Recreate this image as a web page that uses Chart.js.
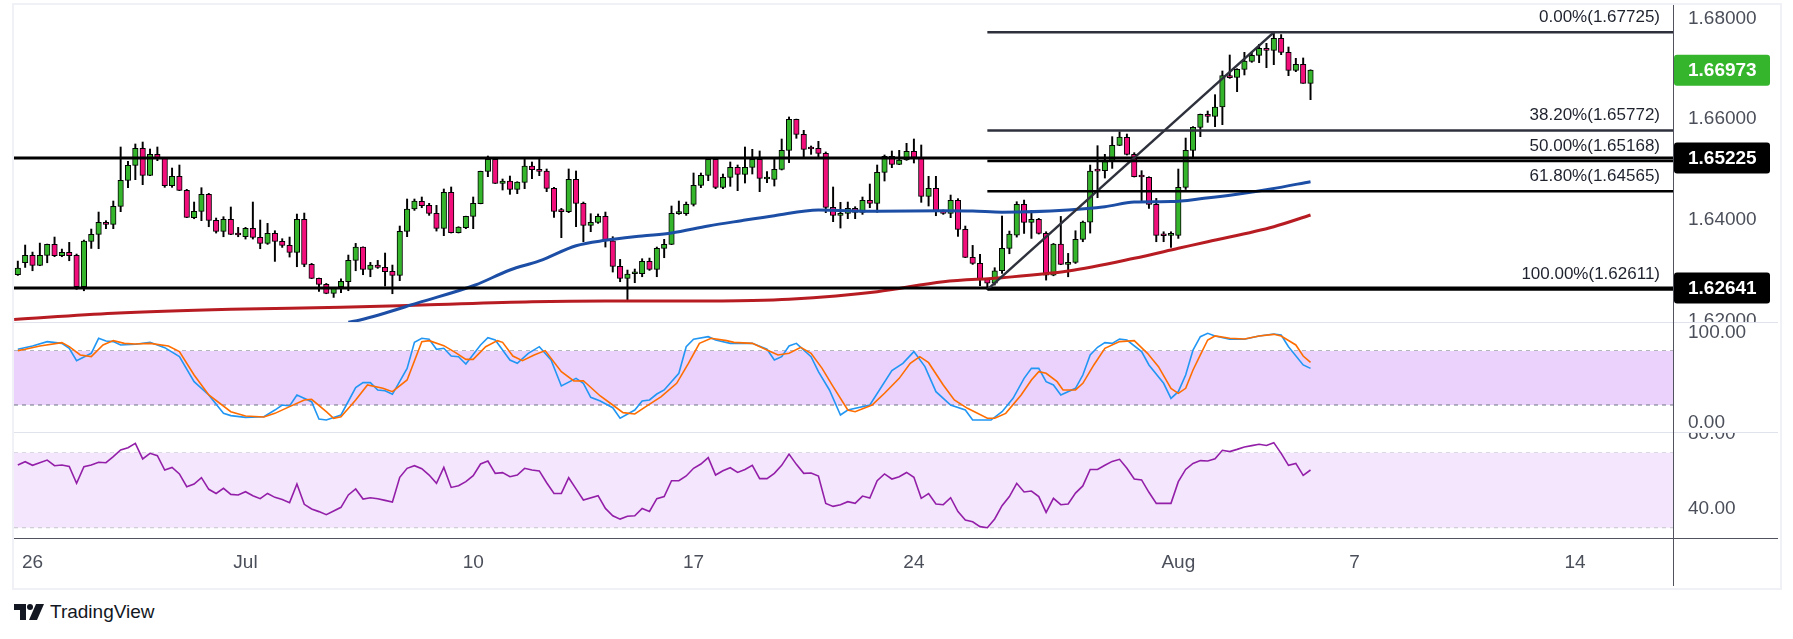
<!DOCTYPE html>
<html>
<head>
<meta charset="utf-8">
<script src="https://cdn.jsdelivr.net/npm/chart.js@4.4.0/dist/chart.umd.min.js"></script>
<style>
html, body { margin: 0; padding: 0; background: #fff; width: 1793px; height: 639px; overflow: hidden; font-family: 'Liberation Sans', Arial, sans-serif; }
.pane { position: absolute; left: 14px; width: 1764px; }
#p1 { top: 5px; height: 317px; }
#p2 { top: 322px; height: 110px; }
#p3 { top: 432px; height: 154px; }
.ln { position: absolute; pointer-events: none; }
#frame { left: 12px; top: 3px; width: 1766px; height: 583px; border: 2px solid #eff1f6; }
#logo { position: absolute; left: 14px; top: 603px; height: 18px; display: flex; align-items: center; gap: 6px; color: #131722; font-size: 19px; }
</style>
</head>
<body>
<div class="pane" id="p1"><canvas id="c1"></canvas></div>
<div class="pane" id="p2"><canvas id="c2"></canvas></div>
<div class="pane" id="p3"><canvas id="c3"></canvas></div>
<div class="ln" id="frame"></div>
<div class="ln" style="left:14px;top:322px;width:1764px;height:1px;background:#e0e3eb"></div>
<div class="ln" style="left:14px;top:432px;width:1764px;height:1px;background:#e0e3eb"></div>
<div class="ln" style="left:14px;top:538px;width:1764px;height:1px;background:#50535e"></div>
<div class="ln" style="left:1673px;top:5px;width:1px;height:581px;background:#50535e"></div>
<div id="logo">
  <svg width="30" height="16" viewBox="0 0 30 16"><path d="M0 0H12V16H6V6H0Z" fill="#131722"/><circle cx="16" cy="3" r="3" fill="#131722"/><path d="M22 0H30L23 16H15Z" fill="#131722"/></svg>
  <span>TradingView</span>
</div>
<script>
// 4h candles, index 0 = first bar on screen (Jun 25 evening), last = Aug 4 00:00
const opens = [1.62906,1.63144,1.63290,1.63091,1.63290,1.63509,1.63283,1.63350,1.63290,1.62667,
1.63569,1.63708,1.63946,1.63907,1.64265,1.64782,1.65080,1.65418,1.64881,1.65299,
1.65219,1.64676,1.64861,1.64583,1.64039,1.64165,1.64503,1.63986,1.63767,1.64006,
1.63708,1.63661,1.63827,1.63648,1.63529,1.63728,1.63569,1.63489,1.63350,1.64006,
1.63111,1.62833,1.62713,1.62534,1.62667,1.62767,1.63191,1.63456,1.63012,1.63098,
1.63052,1.62972,1.62893,1.63768,1.64212,1.64364,1.64285,1.64126,1.63827,1.64543,
1.63741,1.63841,1.64066,1.64318,1.64961,1.65200,1.64722,1.64769,1.64603,1.64742,
1.65067,1.65001,1.64968,1.64623,1.64166,1.64160,1.64802,1.64325,1.63887,1.63947,
1.64066,1.63582,1.63072,1.62833,1.62926,1.62926,1.63171,1.63012,1.63430,1.63509,
1.64119,1.64119,1.64305,1.64683,1.64882,1.65200,1.64643,1.64842,1.65041,1.64902,
1.65041,1.65200,1.64809,1.64802,1.65001,1.65379,1.65995,1.65697,1.65412,1.65419,
1.65319,1.64245,1.64086,1.64126,1.64225,1.64146,1.64384,1.64325,1.64941,1.65260,
1.65100,1.65187,1.65359,1.65240,1.64464,1.64623,1.64166,1.64126,1.64384,1.63808,
1.63251,1.63131,1.62813,1.62740,1.62985,1.63429,1.63694,1.64304,1.63946,1.64006,
1.63727,1.62898,1.63515,1.63111,1.63150,1.63608,1.63953,1.64974,1.64974,1.65153,
1.65478,1.65637,1.65299,1.64854,1.64841,1.64304,1.63687,1.63687,1.63687,1.64642,
1.65378,1.65836,1.66094,1.66054,1.66240,1.66863,1.66830,1.66989,1.67148,1.67268,
1.67407,1.67367,1.67606,1.67327,1.66969,1.67089,1.66711];
const highs = [1.63177,1.63496,1.63356,1.63535,1.63515,1.63655,1.63416,1.63549,1.63317,1.63595,
1.63814,1.64152,1.63980,1.64371,1.65445,1.65160,1.65505,1.65544,1.65405,1.65445,
1.65225,1.65027,1.65087,1.64603,1.64351,1.64636,1.64523,1.64033,1.64059,1.64252,
1.63847,1.63847,1.64351,1.63993,1.63927,1.63781,1.63622,1.63655,1.64112,1.64132,
1.63131,1.62840,1.62733,1.62640,1.62826,1.63297,1.63529,1.63460,1.63151,1.63191,
1.63337,1.63098,1.63874,1.64411,1.64411,1.64451,1.64325,1.64285,1.64610,1.64650,
1.63860,1.64070,1.64451,1.64965,1.65266,1.65225,1.64809,1.64868,1.64755,1.65200,
1.65147,1.65200,1.65008,1.64643,1.64225,1.65008,1.64968,1.64351,1.64119,1.64113,
1.64152,1.63662,1.63211,1.62999,1.63019,1.63224,1.63237,1.63456,1.63609,1.64272,
1.64371,1.64351,1.64928,1.64928,1.65206,1.65206,1.64908,1.65147,1.65087,1.65445,
1.65399,1.65366,1.64955,1.65200,1.65604,1.66042,1.66000,1.65777,1.65465,1.65558,
1.65346,1.64650,1.64345,1.64351,1.64258,1.64451,1.64709,1.65087,1.65286,1.65366,
1.65379,1.65518,1.65604,1.65485,1.64862,1.64862,1.64192,1.64490,1.64418,1.63874,
1.63489,1.63310,1.62826,1.63045,1.64073,1.63774,1.64357,1.64390,1.64185,1.64026,
1.63760,1.63528,1.64065,1.63330,1.63780,1.63973,1.65086,1.65471,1.65299,1.65650,
1.65749,1.65703,1.65332,1.64974,1.64854,1.64423,1.63760,1.63760,1.65007,1.65623,
1.65849,1.66100,1.66160,1.66485,1.66956,1.67274,1.67002,1.67327,1.67327,1.67486,
1.67506,1.67725,1.67680,1.67433,1.67208,1.67215,1.66980];
const lows = [1.62892,1.63051,1.62985,1.63085,1.63144,1.63264,1.63264,1.63184,1.62614,1.62587,
1.63429,1.63423,1.63821,1.63821,1.64159,1.64636,1.64795,1.64696,1.64875,1.65173,
1.64643,1.64643,1.64577,1.64040,1.64019,1.63980,1.63860,1.63734,1.63661,1.63702,
1.63661,1.63615,1.63615,1.63423,1.63509,1.63171,1.63449,1.63257,1.63065,1.63065,
1.62827,1.62574,1.62528,1.62455,1.62548,1.62588,1.62985,1.62906,1.62866,1.63032,
1.62680,1.62528,1.62787,1.63662,1.64185,1.64238,1.64086,1.63774,1.63682,1.63735,
1.63735,1.63821,1.63821,1.64315,1.64855,1.64718,1.64590,1.64504,1.64517,1.64616,
1.64815,1.64875,1.64557,1.64046,1.63642,1.64139,1.63861,1.63562,1.63761,1.63927,
1.63456,1.62959,1.62767,1.62402,1.62747,1.62866,1.62992,1.62866,1.63244,1.63503,
1.64106,1.64086,1.64272,1.64636,1.64776,1.64616,1.64616,1.64663,1.64577,1.64729,
1.64908,1.64557,1.64736,1.64669,1.64988,1.65134,1.65618,1.65253,1.65299,1.65253,
1.64139,1.63960,1.63834,1.64020,1.64020,1.64106,1.64238,1.64146,1.64769,1.65034,
1.65094,1.65180,1.65127,1.64345,1.64272,1.64079,1.64106,1.64040,1.63668,1.63245,
1.63111,1.62687,1.62611,1.62700,1.62932,1.63323,1.63654,1.63727,1.63628,1.63714,
1.62799,1.62885,1.63105,1.62865,1.63130,1.63562,1.63734,1.64437,1.64828,1.65020,
1.65472,1.65285,1.64848,1.64357,1.64224,1.63562,1.63562,1.63449,1.63628,1.64602,
1.65252,1.65650,1.65935,1.65849,1.65889,1.66810,1.66545,1.66877,1.67128,1.67122,
1.67022,1.67082,1.67281,1.66863,1.66943,1.66711,1.66386];
const closes = [1.63038,1.63290,1.63091,1.63290,1.63509,1.63283,1.63350,1.63283,1.62667,1.63575,
1.63708,1.63946,1.63907,1.64265,1.64782,1.65080,1.65418,1.64881,1.65299,1.65219,
1.64676,1.64861,1.64583,1.64046,1.64165,1.64503,1.63986,1.63767,1.64006,1.63708,
1.63695,1.63827,1.63648,1.63529,1.63728,1.63569,1.63489,1.63350,1.64006,1.63111,
1.62833,1.62713,1.62534,1.62634,1.62773,1.63191,1.63456,1.63012,1.63098,1.63052,
1.62966,1.62893,1.63768,1.64212,1.64371,1.64278,1.64126,1.63827,1.64543,1.63741,
1.63854,1.64066,1.64325,1.64961,1.65200,1.64722,1.64769,1.64603,1.64749,1.65067,
1.64994,1.64961,1.64623,1.64166,1.64160,1.64802,1.64325,1.63887,1.63947,1.64066,
1.63582,1.63072,1.62833,1.62919,1.62930,1.63171,1.63012,1.63430,1.63509,1.64126,
1.64132,1.64305,1.64683,1.64882,1.65200,1.64643,1.64842,1.65041,1.64902,1.65041,
1.65200,1.64822,1.64815,1.65001,1.65379,1.65995,1.65697,1.65399,1.65405,1.65319,
1.64245,1.64086,1.64126,1.64225,1.64146,1.64384,1.64325,1.64941,1.65260,1.65100,
1.65187,1.65359,1.65240,1.64464,1.64623,1.64166,1.64126,1.64384,1.63808,1.63251,
1.63131,1.62813,1.62740,1.62985,1.63430,1.63714,1.64304,1.63946,1.64006,1.63727,
1.62898,1.63515,1.63111,1.63150,1.63608,1.63953,1.64967,1.64967,1.65153,1.65478,
1.65643,1.65299,1.64854,1.64848,1.64304,1.63687,1.63681,1.63690,1.64642,1.65378,
1.65836,1.66094,1.66054,1.66240,1.66863,1.66823,1.66989,1.67155,1.67268,1.67407,
1.67367,1.67606,1.67327,1.66969,1.67089,1.66711,1.66973];

// moving averages as [bar, price]
const maBlue = [[45,1.61960],[46.6,1.62006],[55,1.62370],[62.3,1.62702],[67,1.63000],[71,1.63180],[76,1.63483],[80,1.63590],[85,1.63676],[89,1.63735],[94,1.63875],[98.5,1.63980],[103,1.64080],[109,1.64193],[117,1.64167],[126,1.64179],[130,1.64173],[134,1.64150],[143,1.64193],[148,1.64258],[152,1.64350],[157,1.64360],[161.5,1.64425],[166,1.64505],[170.6,1.64610],[176,1.64756]];
const maRed = [[-0.5,1.62015],[13,1.62139],[29,1.62219],[44,1.62258],[55,1.62304],[70,1.62370],[80,1.62385],[90,1.62385],[100,1.62395],[105,1.62420],[117,1.62569],[126,1.62767],[134,1.62847],[143,1.62980],[152,1.63233],[158,1.63431],[162,1.63563],[171,1.63861],[176,1.64093]];

// stochastic %K / %D and RSI as [bar, value]
const stochK = [[0,82],[2,85.6],[4,90.4],[6,88.5],[7,83],[8,69.3],[10,77.4],[11,94.1],[12,91.1],[13,90.4],[14,86.7],[16,87.4],[18,89.6],[19,86.7],[20,83.7],[22,73.7],[24,45.9],[26,31.1],[28,10.7],[29,8.2],[31,6.3],[33.5,7],[35,14.4],[36,20],[37,18.9],[38,31.1],[40,23.7],[41,4.4],[42,3.3],[44,8.9],[46,39.3],[47,44.8],[48,44.8],[49,36.7],[50,35.9],[51,31.9],[53,60.7],[54,89.6],[55,94.1],[56,93],[57,81.9],[58,83],[59,74.4],[60,73.7],[61,65.6],[63,86.7],[64,94.8],[65,92.2],[67,70],[68,66.3],[69.5,77.4],[71,84.8],[72.6,70],[74,41.1],[76,49.6],[77,44.1],[78,28.5],[79.3,24.5],[81,17],[82,5.2],[84,14.4],[85,24.4],[86,25.6],[87,32.2],[88,36.7],[90,55.2],[91,84.8],[92,93],[94,95.9],[95,92.2],[97,88.5],[100,88.5],[102,81.9],[103,70],[104,73.7],[105,85.6],[106,88.5],[108,73.7],[109,57],[110.5,36.7],[112,8.9],[113,14.4],[116,20],[119,58.2],[120.5,66.3],[122,79.3],[123.5,62.6],[125,34.8],[127,20],[129,14.4],[130,3.3],[132.5,3.3],[134,12.6],[135.5,27.4],[137,49.6],[138,60.7],[139,60.7],[140,45.9],[141,42.2],[142,31.1],[144,38.5],[145,53.3],[146,75.6],[147,84.1],[148,89.3],[149,88.5],[150,93.3],[151,92.2],[153,79.3],[154,64.5],[156,44.1],[157,27.4],[158,34.8],[159,53.3],[160,81.1],[161,95.9],[162,99.6],[163,96.7],[165,93],[167,93],[169,96.7],[171,98.9],[172,97.8],[173,84.8],[175,64.5],[176,60.7]];
const stochD = [[0,80.4],[1,81.9],[3,85.6],[6,89.3],[7,84.8],[8.5,75.6],[10,73.7],[11.6,86.7],[13,91.5],[14.5,88.5],[16,87.8],[18,88.5],[20.5,85.6],[22,79.3],[24,53.3],[26,31.1],[29,12.6],[31,7.8],[33.5,6.7],[35,10.7],[37,18.2],[39,25.6],[40,26.3],[42,12.6],[43,5.2],[44,7],[46,25.6],[47.6,42.2],[49.7,38.5],[51,34.8],[53,47.8],[55,90.4],[56,91.5],[58,85.9],[59.6,78.2],[61,70.7],[62,70.7],[63.7,84.8],[65.3,91.5],[66,89.6],[67.4,74.4],[68.7,69.3],[70.3,75.6],[71.8,80.4],[74,57],[75.7,46.7],[77,47],[79.3,30],[81,20],[82.4,11.5],[84,10],[85.5,18.2],[87.6,29.3],[89.7,44.1],[91.3,66.3],[92.8,88.5],[94.4,94.1],[96.5,91.5],[97.5,89.6],[100,88.5],[102,81.1],[103.5,75.6],[105,77.4],[106.6,84.1],[108,77.4],[109.5,60.7],[111,40.4],[113,14.4],[114,12.6],[116.3,20],[118,33],[120,49.6],[121.5,66.3],[122.8,73.7],[124,67],[126,42.2],[127.5,25.6],[129.3,16.3],[132,5.2],[133,5.2],[134.5,10.7],[136.6,31.1],[138,47.8],[139,57],[140,55.2],[141.5,45.9],[142.3,36.7],[144,36.7],[145,44.1],[146.5,64.5],[148,83],[150,90.4],[152,91.5],[153.8,77.4],[155.3,62.6],[157,38.5],[158,33],[159,38.5],[160,58.9],[161,75.6],[162,92.2],[163,96.7],[165,94.1],[167,93.3],[169,96.7],[171,98.5],[172,96.7],[174,86.7],[175,74.4],[176,67.4]];
const rsi = [[0,63.5],[1,65.2],[2,63.3],[4,66.1],[5,63.1],[6,63.5],[7,62.7],[8,53.7],[9,62.6],[10,63.5],[11,64.9],[12,64.7],[13,67.9],[14,71.5],[15,72.7],[16,75],[17,66.7],[18,69.7],[19,68.4],[20,60.8],[21,62.2],[22,58.7],[23,51.9],[24,53.3],[25,56.7],[26,50.5],[27,48.3],[28,51],[29,47.8],[30,47.5],[31,49.2],[32,47.1],[33,45.5],[34,48.3],[35,46.2],[36,45.1],[37,43.4],[38,53.3],[39,42.5],[40,40],[41,38.6],[42,37],[43,38.9],[44,40.9],[45,47.5],[46,50.7],[47,45.3],[48,46],[49,45.5],[50,44.6],[51,43.7],[52,56.9],[53,61.7],[54,63.1],[55,61.5],[56,58.1],[57,53.7],[58,62.2],[59,51.5],[60,52.4],[61,54.6],[62,57.8],[63,64],[64,65.6],[65,59],[66,59.4],[67,57.2],[68,58.1],[69,61.7],[70,60.8],[71,60.3],[72,54],[73,48.3],[74,48.3],[75,56.7],[76,50.7],[77,44.8],[79,47.1],[80,40.3],[81,36.4],[82,34.6],[83,36.1],[84,36.4],[85,40.3],[86,38.7],[87,45.5],[88,46.6],[89,55.1],[90,55.1],[91,57.6],[92,61.7],[93,64],[94,67.4],[95,58.1],[96,60.4],[97,62],[98,59.5],[99,61.1],[100,63.3],[101,56.2],[102,56.2],[103,59],[104,63.3],[105,69.3],[106,63.8],[107,59],[108,59.2],[109,57.6],[110,43],[111,41.4],[112,42.3],[113,43.9],[114,43],[115,46.9],[116,45.8],[117,55.1],[118,58.7],[119,56],[120,57.2],[121,59.5],[122,56.9],[123,45.7],[124,48.2],[125,42.7],[126,42.3],[127,46],[128,38.6],[129,34.1],[130,33.2],[131,30.6],[132,30],[133,34.7],[134,41.8],[135,46.6],[136,53.7],[137,49.1],[138,49.6],[139,46.6],[140,38.2],[141,45.7],[142,42.3],[143,42.7],[144,48.5],[145,52.3],[146,61.1],[147,61.1],[148,63.3],[149,65.4],[150,66.5],[151,61.7],[152,56],[153,55.5],[154,48.9],[155,43],[156,43],[157,43],[158,54.6],[159,61.1],[160,64.3],[161,65.8],[162,65.6],[163,66.8],[164,71.3],[165,70.6],[166,71.8],[167,73.1],[168,73.8],[169,74.5],[170,73.9],[171,75.4],[172,69.7],[173,63.3],[174,64.3],[175,57.9],[176,60.8]];

// drawings
const hLevels = [1.65225, 1.62641];
const fibLevels = [0, 38.2, 50, 61.8, 100];
const fibPrices = [1.67725, 1.65772, 1.65168, 1.64565, 1.62611];
const fibStart = 132;
const trendLine = [[132, 1.62611], [171, 1.67725]];

// axes
const timeIdx = [2, 31, 62, 92, 122, 158, 182, 212];
const timeLabels = ['26', 'Jul', '10', '17', '24', 'Aug', '7', '14'];
const priceTicks = [1.62, 1.64, 1.66, 1.68];
const stochTicks = [0, 100];
const rsiTicks = [40, 80];
const xMin = -0.52, xMax = 225.35;

const GREEN = '#35b52c', PINK = '#f20f7b', AXIS_TXT = '#4b4f5a';
Chart.defaults.font.family = "'Liberation Sans', Arial, sans-serif";
Chart.defaults.animation = false;

const pts = (arr) => arr.map(([x, y]) => ({ x, y }));
const hline = (y) => [{ x: xMin, y }, { x: xMax, y }];

function xAxis(show) {
    const ax = { type: 'linear', min: xMin, max: xMax, offset: false, display: show,
        grid: { display: false, drawTicks: false }, border: { display: false } };
    if (show) {
        ax.afterBuildTicks = (s) => { s.ticks = timeIdx.map((v) => ({ value: v })); };
        ax.afterFit = (s) => { s.height = 48; s.paddingLeft = 0; s.paddingRight = 0; };
        ax.ticks = { autoSkip: false, maxRotation: 0, padding: 13, color: AXIS_TXT, font: { size: 19 },
            callback: (v) => timeLabels[timeIdx.indexOf(v)] };
    }
    return ax;
}
function yAxis(min, max, ticks, digits) {
    return { type: 'linear', position: 'right', min, max, bounds: 'data',
        grid: { display: false, drawTicks: false }, border: { display: false },
        afterBuildTicks: (s) => { s.ticks = ticks.map((v) => ({ value: v })); },
        afterFit: (s) => { s.width = 105; s.paddingTop = 0; s.paddingBottom = 0; },
        ticks: { autoSkip: false, padding: 15, color: AXIS_TXT, font: { size: 19 }, callback: (v) => Number(v).toFixed(digits) } };
}
const baseOpts = { responsive: true, maintainAspectRatio: false, events: [], layout: { padding: 0 },
    plugins: { legend: { display: false }, tooltip: { enabled: false } } };
const line = (data, color, width, extra) => Object.assign({ type: 'line', data, borderColor: color, borderWidth: width,
    pointRadius: 0, fill: false, tension: 0 }, extra || {});

// fib labels + price tags
const overlayPlugin = {
    id: 'overlay',
    afterDraw(chart) {
        const { ctx, chartArea, scales: { y } } = chart;
        ctx.save();
        ctx.font = "17px 'Liberation Sans', Arial, sans-serif";
        ctx.fillStyle = '#1e222d';
        ctx.textAlign = 'right';
        ctx.textBaseline = 'middle';
        fibLevels.forEach((lv, i) => {
            ctx.fillText(`${lv.toFixed(2)}%(${fibPrices[i].toFixed(5)})`, chartArea.right - 13, y.getPixelForValue(fibPrices[i]) - 15);
        });
        const tags = [[closes[closes.length - 1], GREEN], [hLevels[0], '#000'], [hLevels[1], '#000']];
        ctx.font = "bold 19px 'Liberation Sans', Arial, sans-serif";
        ctx.textAlign = 'left';
        tags.forEach(([v, col]) => {
            const py = y.getPixelForValue(v);
            ctx.fillStyle = col;
            ctx.beginPath();
            ctx.roundRect(chartArea.right + 1, py - 15.5, 96, 31, 3);
            ctx.fill();
            ctx.fillStyle = '#fff';
            ctx.fillText(v.toFixed(5), chartArea.right + 15, py + 1);
        });
        ctx.restore();
    }
};

const bodyColors = closes.map((c, i) => (c >= opens[i] ? GREEN : PINK));

new Chart(document.getElementById('c1'), {
    type: 'bar',
    data: { datasets: [
        { type: 'bar', order: 10, data: lows.map((l, i) => ({ x: i, y: [l, highs[i]] })), backgroundColor: '#000', barThickness: 1.3, grouped: false },
        { type: 'bar', order: 9, data: opens.map((o, i) => ({ x: i, y: [o, closes[i]] })), backgroundColor: bodyColors,
          borderColor: '#000', borderWidth: 1, borderSkipped: false, barThickness: 5.5, minBarLength: 2, grouped: false },
        line(pts(maRed), '#b71c23', 3, { order: 6, cubicInterpolationMode: 'monotone' }),
        line(pts(maBlue), '#1c4ea6', 3, { order: 5, cubicInterpolationMode: 'monotone' }),
        ...hLevels.map((v) => line(hline(v), '#000', 3, { order: 2 })),
        ...fibPrices.map((v, i) => line([{ x: fibStart, y: v }, { x: xMax, y: v }], i < 2 ? '#2e313c' : '#000', 2.4, { order: 1 })),
        line(pts(trendLine), '#2e313c', 2.5, { order: 1 }),
    ] },
    options: Object.assign({}, baseOpts, { scales: { x: xAxis(false), y: yAxis(1.61966, 1.68268, priceTicks, 5) } }),
    plugins: [overlayPlugin]
});

function bandSets(hi, lo, dashColor, fillColor) {
    return [
        line(hline(hi), dashColor, 1, { order: 20, borderDash: [4, 4] }),
        line(hline(lo), dashColor, 1, { order: 19, borderDash: [4, 4], fill: '-1', backgroundColor: fillColor }),
    ];
}

new Chart(document.getElementById('c2'), {
    type: 'line',
    data: { datasets: [
        ...bandSets(80, 20, '#6f7280', '#ead2fc'),
        line(pts(stochK), '#2196f3', 1.6, { order: 3 }),
        line(pts(stochD), '#ff6d00', 1.6, { order: 2 }),
    ] },
    options: Object.assign({}, baseOpts, { scales: { x: xAxis(false), y: yAxis(-10, 112.2, stochTicks, 2) } })
});

new Chart(document.getElementById('c3'), {
    type: 'line',
    data: { datasets: [
        ...bandSets(70, 30, '#c3c5cc', '#f4e6fd'),
        line(pts(rsi), '#931fa8', 1.6, { order: 2 }),
    ] },
    options: Object.assign({}, baseOpts, { scales: { x: xAxis(true), y: yAxis(24.53, 81.07, rsiTicks, 2) } })
});
</script>
</body>
</html>
